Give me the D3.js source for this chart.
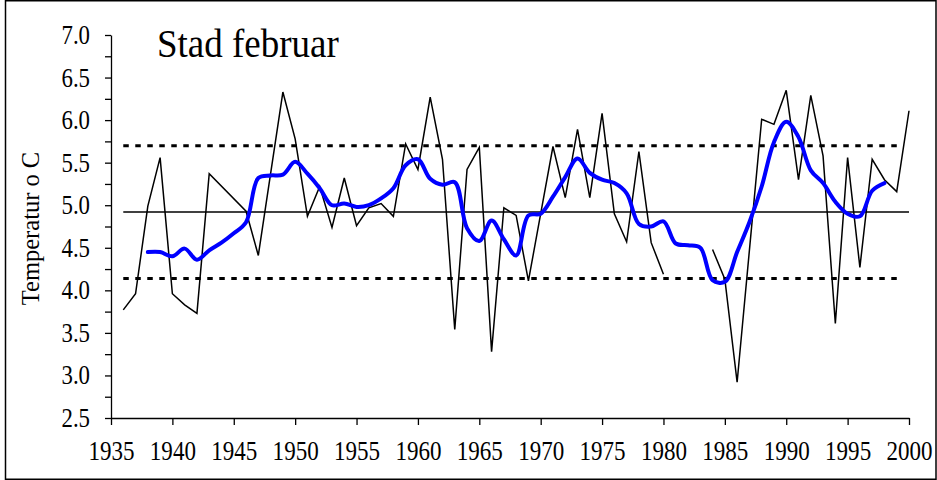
<!DOCTYPE html>
<html>
<head>
<meta charset="utf-8">
<script src="https://cdn.jsdelivr.net/npm/d3@7"></script>
<style>
  body { margin: 0; background: #fff; }
  svg { display: block; }
  text { font-family: "Liberation Serif", "Times New Roman", serif; fill: #000; }
</style>
</head>
<body>
<div class="canvas"></div>
<script>
// annual february temperatures (1944-45 missing, 1981-83 blank)
const years = [1936, 1937, 1938, 1939, 1940, 1941, 1942, 1943, 1946, 1947,
    1948, 1949, 1950, 1951, 1952, 1953, 1954, 1955, 1956, 1957,
    1958, 1959, 1960, 1961, 1962, 1963, 1964, 1965, 1966, 1967,
    1968, 1969, 1970, 1971, 1972, 1973, 1974, 1975, 1976, 1977,
    1978, 1979, 1980, 1981, 1982, 1983, 1984, 1985, 1986, 1987,
    1988, 1989, 1990, 1991, 1992, 1993, 1994, 1995, 1996, 1997,
    1998, 1999, 2000];
const temps = [3.77, 3.96, 4.99, 5.56, 3.96, 3.83, 3.73, 5.37, 4.93, 4.41,
    5.37, 6.33, 5.78, 4.87, 5.22, 4.74, 5.32, 4.76, 4.97, 5.02,
    4.87, 5.72, 5.42, 6.27, 5.54, 3.54, 5.42, 5.68, 3.28, 4.97,
    4.88, 4.11, 4.90, 5.69, 5.09, 5.89, 5.09, 6.08, 4.90, 4.57,
    5.63, 4.56, 4.19, null, null, null, 4.48, 4.13, 2.92, 4.47,
    6.01, 5.95, 6.35, 5.30, 6.29, 5.58, 3.61, 5.56, 4.27, 5.54,
    5.30, 5.16, 6.11];

// smoothed curve
const smoothYears = [1938, 1939, 1940, 1941, 1942, 1943, 1944, 1945, 1946, 1947,
    1948, 1949, 1950, 1951, 1952, 1953, 1954, 1955, 1956, 1957,
    1958, 1959, 1960, 1961, 1962, 1963, 1964, 1965, 1966, 1967,
    1968, 1969, 1970, 1971, 1972, 1973, 1974, 1975, 1976, 1977,
    1978, 1979, 1980, 1981, 1982, 1983, 1984, 1985, 1986, 1987,
    1988, 1989, 1990, 1991, 1992, 1993, 1994, 1995, 1996, 1997, 1998];
const smoothTemps = [4.45, 4.45, 4.40, 4.49, 4.36, 4.47, 4.56, 4.67, 4.80, 5.32,
    5.35, 5.36, 5.51, 5.37, 5.20, 5.00, 5.02, 4.98, 5.00, 5.08,
    5.20, 5.47, 5.54, 5.31, 5.24, 5.27, 4.73, 4.58, 4.82, 4.60,
    4.41, 4.88, 4.90, 5.10, 5.33, 5.55, 5.38, 5.30, 5.26, 5.14,
    4.78, 4.75, 4.81, 4.55, 4.53, 4.50, 4.12, 4.10, 4.45, 4.80,
    5.22, 5.74, 5.98, 5.80, 5.41, 5.26, 5.04, 4.90, 4.87, 5.17, 5.26];

// mean and +/- one standard deviation
const meanTemp = 4.92;
const bandTemps = [5.70, 4.14];
const refYears = [1936, 2000];

const xTicks = [1935, 1940, 1945, 1950, 1955, 1960, 1965, 1970, 1975, 1980, 1985, 1990, 1995, 2000];
const yTicks = [2.5, 2.75, 3.0, 3.25, 3.5, 3.75, 4.0, 4.25, 4.5, 4.75, 5.0, 5.25, 5.5, 5.75, 6.0, 6.25, 6.5, 6.75, 7.0];

const dimensions = { width: 937, height: 480 };
const plot = { left: 111, right: 909, top: 35, bottom: 418 };

const svg = d3.select('.canvas')
    .append('svg')
    .attr('width', dimensions.width)
    .attr('height', dimensions.height);

// outer frame
svg.append('rect')
    .attr('x', 5.5).attr('y', 0.75)
    .attr('width', dimensions.width - 6.5)
    .attr('height', dimensions.height - 1.5)
    .attr('fill', 'none')
    .attr('stroke', '#000')
    .attr('stroke-width', 1.5);

const x = d3.scaleLinear().domain([1935, 2000]).range([plot.left, plot.right]);
const y = d3.scaleLinear().domain([2.5, 7.0]).range([plot.bottom, plot.top]);

// axes
const yAxis = d3.axisLeft(y)
    .tickValues(yTicks)
    .tickSize(6)
    .tickSizeOuter(0)
    .tickPadding(15)
    .tickFormat(v => (Math.round(v * 100) % 50 === 0) ? d3.format('.1f')(v) : '');

const xAxis = d3.axisBottom(x)
    .tickValues(xTicks)
    .tickSize(7)
    .tickSizeOuter(0)
    .tickPadding(12)
    .tickFormat(d3.format('d'));

const yG = svg.append('g')
    .attr('transform', `translate(${plot.left}, 0)`)
    .call(yAxis);

const xG = svg.append('g')
    .attr('transform', `translate(0, ${plot.bottom})`)
    .call(xAxis);

[yG, xG].forEach(g => {
    g.select('.domain').attr('stroke', '#000').attr('stroke-width', 1.3);
    g.selectAll('.tick line').attr('stroke', '#000').attr('stroke-width', 1.3);
    g.selectAll('.tick text')
        .style('font-family', '"Liberation Serif", serif')
        .style('font-size', '24px')
        .attr('fill', '#000');
});
// tick labels in the reference are a little tall and narrow
yG.selectAll('.tick text')
    .attr('x', -21 / 0.95)
    .attr('transform', 'scale(0.95, 1.1)');
xG.selectAll('.tick text')
    .attr('y', 23 / 1.1)
    .attr('dy', '0.71em')
    .attr('transform', 'scale(0.96, 1.1)');

// reference lines
const refLine = d3.line().x(d => x(d[0])).y(d => y(d[1]));

svg.append('path')
    .attr('d', refLine(refYears.map(yr => [yr, meanTemp])))
    .attr('fill', 'none')
    .attr('stroke', '#000')
    .attr('stroke-width', 1.5);

svg.selectAll('.band')
    .data(bandTemps)
    .enter()
    .append('path')
    .attr('class', 'band')
    .attr('d', v => refLine([[refYears[0], v], [refYears[1] - 0.6, v]]))
    .attr('fill', 'none')
    .attr('stroke', '#000')
    .attr('stroke-width', 3)
    .attr('stroke-dasharray', '5.5,6.5');

// annual values
const annual = years.map((yr, i) => ({ year: yr, temp: temps[i] }));
const annualLine = d3.line()
    .defined(d => d.temp !== null)
    .x(d => x(d.year))
    .y(d => y(d.temp));

svg.append('path')
    .attr('d', annualLine(annual))
    .attr('fill', 'none')
    .attr('stroke', '#000')
    .attr('stroke-width', 1.5)
    .attr('stroke-linejoin', 'miter');

// smoothed curve
const smooth = smoothYears.map((yr, i) => ({ year: yr, temp: smoothTemps[i] }));
const smoothLine = d3.line()
    .curve(d3.curveCatmullRom.alpha(0.5))
    .x(d => x(d.year))
    .y(d => y(d.temp));

svg.append('path')
    .attr('d', smoothLine(smooth))
    .attr('fill', 'none')
    .attr('stroke', '#0000ff')
    .attr('stroke-width', 4)
    .attr('stroke-linecap', 'round')
    .attr('stroke-linejoin', 'round');

// titles
svg.append('text')
    .attr('x', 157)
    .attr('y', 57)
    .style('font-size', '37px')
    .attr('transform', 'translate(0, -5.7) scale(1, 1.1)')
    .text('Stad februar');

svg.append('text')
    .attr('transform', `translate(39, ${(plot.top + plot.bottom) / 2 + 2}) rotate(-90)`)
    .attr('text-anchor', 'middle')
    .style('font-size', '24.5px')
    .text('Temperatur o C');
</script>
</body>
</html>
